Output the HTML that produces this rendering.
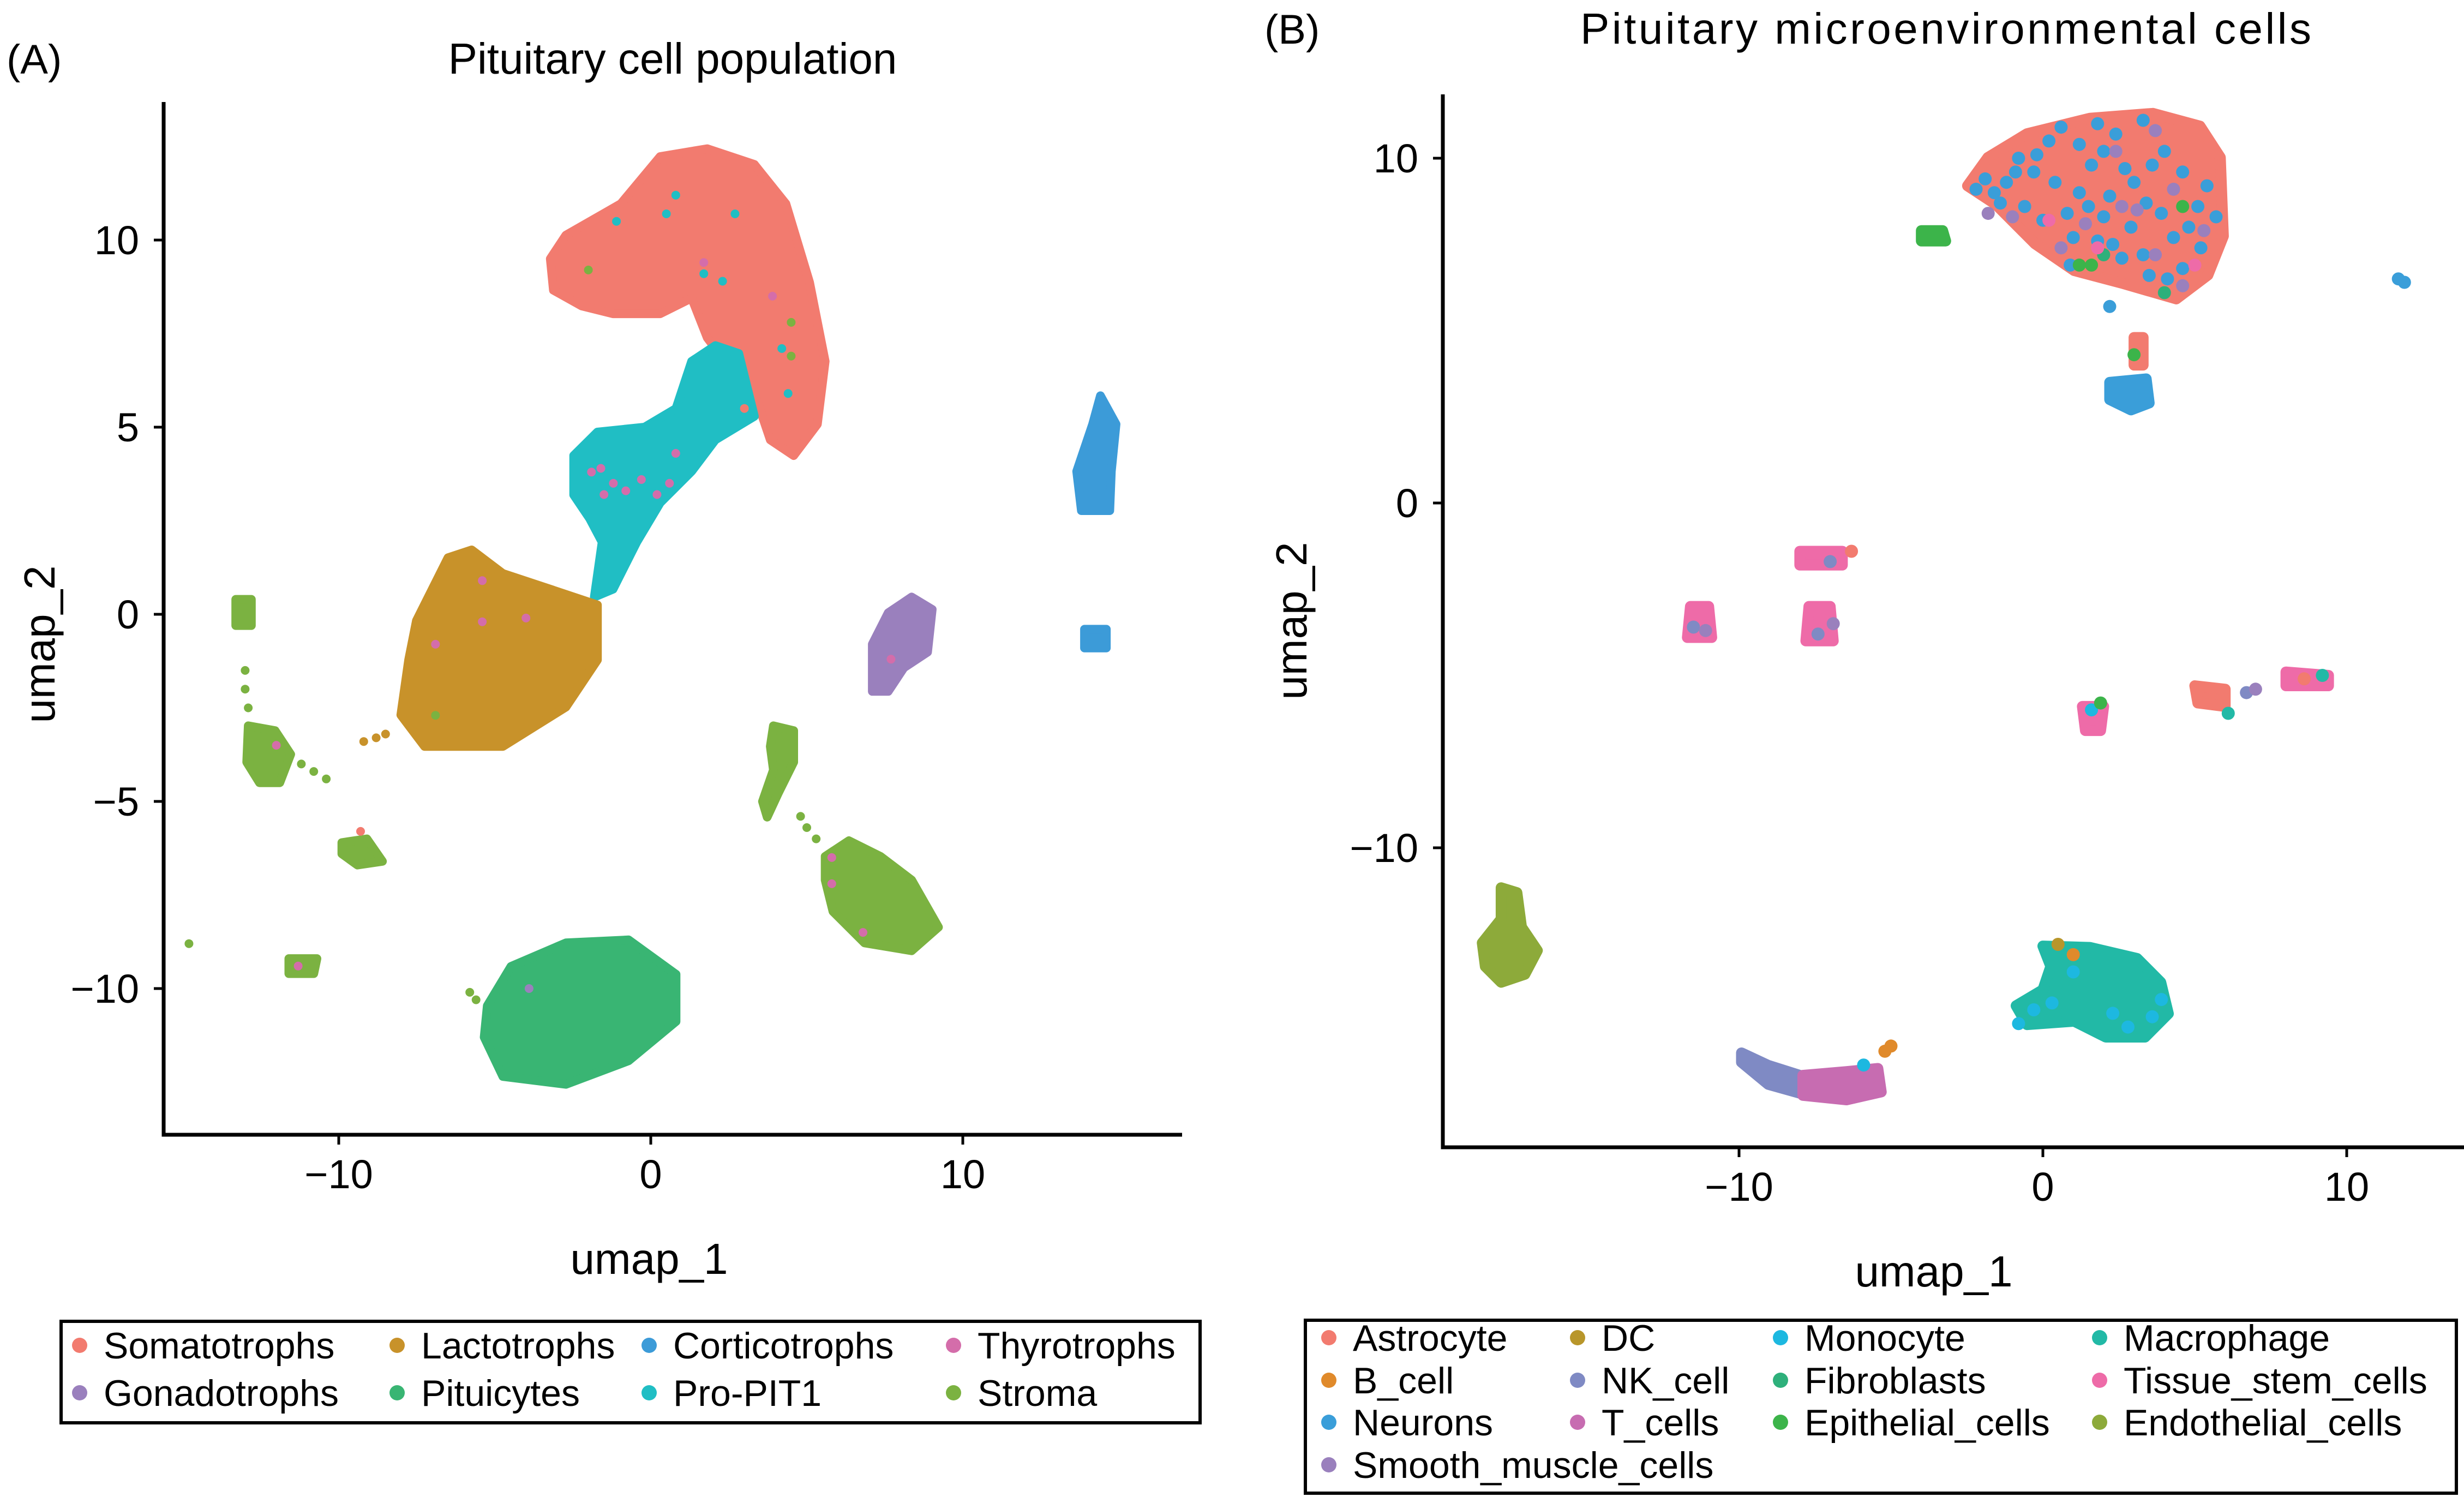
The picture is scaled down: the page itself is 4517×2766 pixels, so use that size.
<!DOCTYPE html>
<html><head><meta charset="utf-8"><style>
html,body{margin:0;padding:0;background:#fff;}
svg{display:block;font-family:"Liberation Sans",sans-serif;}
</style></head><body>
<svg id="fig" width="4517" height="2766" viewBox="0 0 4517 2766" xmlns="http://www.w3.org/2000/svg">
<rect width="4517" height="2766" fill="#fff"/>
<g id="panelA"></g>
<g id="panelB"></g>
</svg>
<script>
// ---------- Panel A data ----------
const aCategories = ["Somatotrophs","Lactotrophs","Corticotrophs","Thyrotrophs","Gonadotrophs","Pituicytes","Pro-PIT1","Stroma"];
const aColors = ["#F27B6F","#C8922A","#3C9BD8","#D46DAA","#9A80BD","#39B573","#20BEC4","#7BB241"];
const aTicksX = [-10,0,10];
const aTicksY = [-10,-5,0,5,10];
const aClusters = [
 [0,[[-3.22,9.5],[-2.72,10.13],[-0.96,10.97],[0.3,12.23],[1.81,12.44],[3.32,12.02],[4.33,10.97],[5.09,8.87],[5.59,6.76],[5.34,5.08],[4.58,4.24],[3.83,4.66],[3.32,5.92],[2.57,6.55],[1.81,7.39],[1.31,8.45],[0.3,8.03],[-1.21,8.03],[-2.22,8.24],[-3.12,8.66]]],
 [6,[[-2.47,4.24],[-1.71,4.87],[-0.2,5.0],[0.81,5.5],[1.31,6.76],[2.07,7.18],[2.82,6.97],[3.32,5.29],[2.07,4.66],[1.31,3.82],[0.3,2.98],[-0.45,1.93],[-1.21,0.67],[-1.81,0.46],[-1.56,1.93],[-1.96,2.56],[-2.47,3.19]]],
 [1,[[-7.51,-0.17],[-6.5,1.51],[-5.74,1.72],[-4.74,1.09],[-3.22,0.67],[-1.71,0.25],[-1.71,-1.22],[-2.72,-2.48],[-4.74,-3.53],[-7.25,-3.53],[-8.01,-2.69],[-7.76,-1.22]]],
 [5,[[-5.24,-10.46],[-4.48,-9.41],[-2.72,-8.78],[-0.71,-8.7],[0.81,-9.62],[0.81,-10.88],[-0.71,-11.93],[-2.72,-12.56],[-4.74,-12.35],[-5.34,-11.3]]],
 [4,[[7.61,0.04],[8.36,0.46],[9.02,0.13],[8.87,-1.01],[8.11,-1.43],[7.61,-2.06],[7.1,-2.06],[7.1,-0.8]]],
 [2,[[14.41,5.84],[14.91,5.08],[14.76,3.82],[14.71,2.77],[13.8,2.77],[13.65,3.82],[14.16,5.08]]],
 [2,[[13.9,-0.4],[14.6,-0.4],[14.6,-0.9],[13.9,-0.9]]],
 [7,[[5.59,-6.47],[6.35,-6.05],[7.36,-6.47],[8.36,-7.1],[9.22,-8.36],[8.36,-8.99],[6.85,-8.78],[5.84,-7.94],[5.59,-7.1]]],
 [7,[[3.93,-2.98],[4.58,-3.11],[4.58,-3.95],[4.08,-4.79],[3.73,-5.42],[3.58,-5.0],[3.93,-4.16],[3.83,-3.53]]],
 [7,[[-12.9,-2.98],[-12.04,-3.11],[-11.54,-3.74],[-11.89,-4.5],[-12.54,-4.5],[-12.95,-3.95]]],
 [7,[[-13.3,0.4],[-12.8,0.4],[-12.8,-0.3],[-13.3,-0.3]]],
 [7,[[-9.9,-6.1],[-9.1,-6.0],[-8.6,-6.6],[-9.4,-6.7],[-9.9,-6.4]]],
 [7,[[-11.6,-9.2],[-10.7,-9.2],[-10.8,-9.6],[-11.6,-9.6]]]
];
const aPoints = [
 [-13.0,-1.5,7],[-13.0,-2.0,7],[-12.9,-2.5,7],[-11.2,-4.0,7],[-10.8,-4.2,7],[-10.4,-4.4,7],
 [-14.8,-8.8,7],[-5.8,-10.1,7],[-5.6,-10.3,7],[-8.5,-3.2,1],[-8.8,-3.3,1],[-9.2,-3.4,1],
 [4.8,-5.4,7],[5.0,-5.7,7],[5.3,-6.0,7],[-9.3,-5.8,0],[-11.3,-9.4,3],[-12.0,-3.5,3],
 [-1.6,3.9,3],[-1.2,3.5,3],[-0.8,3.3,3],[-0.3,3.6,3],[0.2,3.2,3],[0.6,3.5,3],[-1.9,3.8,3],[-1.5,3.2,3],[0.8,4.3,3],
 [-5.4,0.9,3],[-5.4,-0.2,3],[-4.0,-0.1,3],[-6.9,-0.8,3],[7.7,-1.2,3],[6.8,-8.5,3],[5.8,-6.5,3],[5.8,-7.2,3],
 [0.8,11.2,6],[-1.1,10.5,6],[2.7,10.7,6],[1.7,9.1,6],[2.3,8.9,6],[4.2,7.1,6],[4.4,5.9,6],[0.5,10.7,6],
 [1.7,9.4,3],[3.9,8.5,3],[4.5,7.8,7],[-2.0,9.2,7],[4.5,6.9,7],[3.0,5.5,0],[-6.9,-2.7,7],[-3.9,-10.0,4]
];
// ---------- Panel B data ----------
const bCategories = ["Astrocyte","B_cell","Neurons","Smooth_muscle_cells","DC","NK_cell","T_cells","Monocyte","Fibroblasts","Epithelial_cells","Macrophage","Tissue_stem_cells","Endothelial_cells"];
const bColors = ["#F27B6F","#E08A2B","#3A9ED9","#9A80BD","#B8962A","#7F8AC4","#C76CB1","#1DB8E0","#2EB07B","#3CB44A","#22B9A6","#EE6BA8","#8DAA3A"];
const bTicksX = [-10,0,10];
const bTicksY = [-10,0,10];
const bClusters = [
 [0,[[-2.48,9.2],[-1.81,10.02],[-0.52,10.71],[1.55,11.16],[3.62,11.3],[5.17,10.93],[5.84,10.02],[5.94,7.74],[5.43,6.61],[4.39,5.92],[2.58,6.38],[1.03,6.74],[-0.26,7.52],[-1.55,8.66]]],
 [2,[[2.2,3.5],[3.4,3.6],[3.5,2.9],[2.9,2.7],[2.2,3.0]]],
 [0,[[3.0,4.8],[3.3,4.8],[3.3,4.0],[3.0,4.0]]],
 [9,[[-4.0,7.9],[-3.3,7.9],[-3.2,7.6],[-4.0,7.6]]],
 [11,[[-11.6,-3.0],[-11.0,-3.0],[-10.9,-3.9],[-11.7,-3.9]]],
 [11,[[-8.0,-1.4],[-6.6,-1.4],[-6.6,-1.8],[-8.0,-1.8]]],
 [11,[[-7.7,-3.0],[-7.0,-3.0],[-6.9,-4.0],[-7.8,-4.0]]],
 [11,[[1.3,-5.9],[2.0,-5.9],[1.9,-6.6],[1.4,-6.6]]],
 [0,[[5.0,-5.3],[6.0,-5.4],[6.0,-5.9],[5.1,-5.8]]],
 [11,[[8.0,-4.9],[9.4,-5.0],[9.4,-5.3],[8.0,-5.3]]],
 [12,[[-17.83,-11.16],[-17.31,-11.3],[-17.16,-12.3],[-16.64,-12.98],[-17.05,-13.67],[-17.83,-13.9],[-18.35,-13.44],[-18.45,-12.76],[-17.83,-12.07]]],
 [10,[[0.0,-12.85],[1.55,-12.89],[3.1,-13.21],[3.88,-13.9],[4.13,-14.81],[3.36,-15.49],[2.07,-15.49],[1.03,-15.03],[-0.52,-15.13],[-0.88,-14.58],[0.0,-14.12],[0.26,-13.44]]],
 [5,[[-9.92,-15.95],[-9.04,-16.31],[-7.75,-16.67],[-7.75,-17.18],[-9.04,-16.86],[-9.92,-16.22]]],
 [6,[[-7.9,-16.6],[-6.46,-16.49],[-5.43,-16.4],[-5.32,-17.08],[-6.46,-17.31],[-7.9,-17.18]]]
];
const bPoints = [
 [-1.9,9.4,2],[-1.6,9.0,2],[-1.2,9.3,2],[-0.8,10.0,2],[-0.3,9.6,2],[0.2,10.5,2],[0.6,10.9,2],[1.2,10.4,2],[1.8,11.0,2],[2.4,10.7,2],
 [3.3,11.1,2],[4.0,10.2,2],[4.6,9.6,2],[5.4,9.2,2],[5.7,8.3,2],[5.2,7.4,2],[4.6,6.8,2],[3.5,6.6,2],[2.6,7.1,2],[1.8,7.6,2],
 [0.8,8.4,2],[1.2,9.0,2],[2.2,8.9,2],[3.0,9.3,2],[3.9,8.4,2],[4.8,8.0,2],[2.9,8.0,2],[0.0,8.2,2],[-0.6,8.6,2],[1.6,9.8,2],
 [-2.2,9.1,2],[-1.4,8.7,2],[-0.9,9.6,2],[0.4,9.3,2],[1.0,7.7,2],[2.0,8.3,2],[2.7,9.7,2],[3.6,9.8,2],[4.3,7.7,2],[5.1,8.6,2],
 [0.9,6.9,2],[1.5,8.6,2],[2.3,7.5,2],[3.3,7.2,2],[4.1,6.5,2],[3.4,8.7,2],[-0.2,10.1,2],[2.0,10.2,2],
 [-1.0,8.3,3],[0.6,7.4,3],[2.4,10.2,3],[3.1,8.5,3],[3.7,7.2,3],[4.3,9.1,3],[1.4,8.1,3],[5.3,7.9,3],[3.7,10.8,3],[-1.8,8.4,3],[2.6,8.6,3],[4.6,6.3,3],
 [1.2,6.9,9],[1.6,6.9,9],[4.6,8.6,9],[2.0,7.2,8],[4.0,6.1,8],[0.2,8.2,11],[1.8,7.4,11],[5.0,6.9,11],[2.2,5.7,2],[3.0,4.3,9],
 [11.7,6.5,2],[11.9,6.4,2],[-5.0,-15.75,1],[-5.2,-15.9,1],[-5.9,-16.3,7],[1.0,-13.1,1],[0.5,-12.8,4],
 [-0.8,-15.1,7],[-0.3,-14.7,7],[0.3,-14.5,7],[2.8,-15.2,7],[3.6,-14.9,7],[3.9,-14.4,7],[2.3,-14.8,7],[1.0,-13.6,7],
 [-11.5,-3.6,5],[-11.1,-3.7,3],[-7.4,-3.8,5],[-6.9,-3.5,3],[-6.3,-1.4,0],[-7.0,-1.7,5],[1.6,-6.0,7],[1.9,-5.8,9],
 [6.1,-6.1,10],[8.6,-5.1,0],[9.2,-5.0,10],[6.7,-5.5,5],[7.0,-5.4,3]
];
const NS="http://www.w3.org/2000/svg";
function mk(parent,tag,attrs,text){
 const e=document.createElementNS(NS,tag);
 for(const k in attrs) e.setAttribute(k,attrs[k]);
 if(text!==undefined) e.textContent=text;
 parent.appendChild(e); return e;
}
function drawPanel(g,cfg){
 const sx=v=>cfg.x0+v*cfg.kx, sy=v=>cfg.y0-v*cfg.ky;
 cfg.clusters.forEach((c,i)=>{
  const pts=c[1].map(p=>sx(p[0]).toFixed(1)+","+sy(p[1]).toFixed(1)).join(" ");
  const el=mk(g,"polygon",{points:pts,fill:cfg.colors[c[0]],stroke:cfg.colors[c[0]],"stroke-width":cfg.r*2,"stroke-linejoin":"round"});
  
  
 });
 cfg.points.forEach(p=>{
  const el=mk(g,"circle",{cx:sx(p[0]).toFixed(1),cy:sy(p[1]).toFixed(1),r:cfg.pr,fill:cfg.colors[p[2]]});
  
  
 });
 const ax=mk(g,"path",{d:`M${cfg.axL},${cfg.axT} V${cfg.axB} H${cfg.axR}`,fill:"none",stroke:"#000","stroke-width":7});
 
 
 cfg.tx.forEach(t=>{
  const x=sx(t);
  const tk=mk(g,"line",{x1:x,x2:x,y1:cfg.axB,y2:cfg.axB+18,stroke:"#000","stroke-width":5});
  
  
  const lb=mk(g,"text",{x:x,y:cfg.axB+98,"font-size":74,"text-anchor":"middle"},t<0?"\u2212"+(-t):String(t));
  
  
 });
 cfg.ty.forEach(t=>{
  const y=sy(t);
  const tk=mk(g,"line",{x1:cfg.axL-18,x2:cfg.axL,y1:y,y2:y,stroke:"#000","stroke-width":5});
  
  
  const lb=mk(g,"text",{x:cfg.axL-45,y:y+26,"font-size":74,"text-anchor":"end"},t<0?"\u2212"+(-t):String(t));
  
  
 });
}
const gA=document.getElementById("panelA"), gB=document.getElementById("panelB");
drawPanel(gA,{x0:1193,kx:57.2,y0:1126,ky:68.6,r:8,pr:8,clusters:aClusters,points:aPoints,colors:aColors,cats:aCategories,axL:300,axT:187,axB:2080,axR:2167,tx:aTicksX,ty:aTicksY});
drawPanel(gB,{x0:3745,kx:55.7,y0:922,ky:63.2,r:10,pr:12,clusters:bClusters,points:bPoints,colors:bColors,cats:bCategories,axL:2645,axT:173,axB:2103,axR:4517,tx:bTicksX,ty:bTicksY});
function txt(g,name,x,y,s,fs,extra){const e=mk(g,"text",Object.assign({x:x,y:y,"font-size":fs},extra||{}),s);
 
 
 return e;}
txt(gA,"panel-a-label",12,135,"(A)",76);
txt(gA,"chart-title",1233,135,"Pituitary cell population",80,{"text-anchor":"middle"});
txt(gA,"x-axis-title",1190,2335,"umap_1",80,{"text-anchor":"middle"});
txt(gA,"y-axis-title",100,1181,"umap_2",80,{"text-anchor":"middle",transform:"rotate(-90 100 1181)"});
txt(gB,"panel-b-label",2318,80,"(B)",76);
txt(gB,"chart-title",3567,80,"Pituitary microenvironmental cells",80,{"text-anchor":"middle","textLength":1340});
txt(gB,"x-axis-title",3545,2358,"umap_1",80,{"text-anchor":"middle"});
txt(gB,"y-axis-title",2395,1138,"umap_2",80,{"text-anchor":"middle",transform:"rotate(-90 2395 1138)"});
// legends: entries [category index, column, row]
function legend(g,name,box,entries,cats,colors,cols,rows,fs){
 const lg=mk(g,"g",{});
 
 
 mk(lg,"rect",{x:box[0],y:box[1],width:box[2],height:box[3],fill:"#fff",stroke:"#000","stroke-width":6});
 entries.forEach(e=>{
  const ci=e[0], c=e[1], r=e[2];
  const en=mk(lg,"g",{});
  
  
  mk(en,"circle",{cx:cols[c],cy:rows[r],r:14,fill:colors[ci]});
  mk(en,"text",{x:cols[c]+44,y:rows[r]+24,"font-size":fs},cats[ci]);
 });
}
legend(gA,"legend-a",[112,2422,2088,186],[[0,0,0],[4,0,1],[1,1,0],[5,1,1],[2,2,0],[6,2,1],[3,3,0],[7,3,1]],aCategories,aColors,[146,728,1190,1748],[2466,2553],68);
legend(gB,"legend-b",[2393,2420,2110,317],[[0,0,0],[1,0,1],[2,0,2],[3,0,3],[4,1,0],[5,1,1],[6,1,2],[7,2,0],[8,2,1],[9,2,2],[10,3,0],[11,3,1],[12,3,2]],bCategories,bColors,[2436,2892,3264,3849],[2452,2530,2607,2685],68);
</script>
</body></html>
